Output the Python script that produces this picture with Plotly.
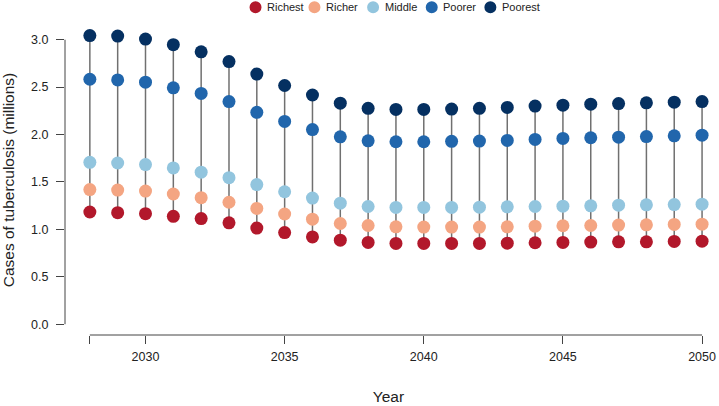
import plotly.graph_objects as go

# ---------------- data ----------------
years = list(range(2028, 2051))
groups = ["Richest", "Richer", "Middle", "Poorer", "Poorest"]
colors = ["#B2182B", "#F4A582", "#92C5DE", "#2166AC", "#053061"]

richest = [1.183, 1.176, 1.166, 1.138, 1.114, 1.069, 1.014, 0.966, 0.920, 0.886,
           0.862, 0.852, 0.852, 0.852, 0.852, 0.855, 0.859, 0.862, 0.866, 0.869,
           0.869, 0.873, 0.876]
richer = [1.420, 1.414, 1.404, 1.373, 1.334, 1.286, 1.221, 1.162, 1.108, 1.062,
          1.041, 1.027, 1.024, 1.024, 1.024, 1.027, 1.034, 1.038, 1.041, 1.045,
          1.048, 1.052, 1.055]
middle = [1.707, 1.700, 1.683, 1.648, 1.603, 1.545, 1.472, 1.397, 1.330, 1.276,
          1.241, 1.231, 1.231, 1.231, 1.234, 1.238, 1.241, 1.245, 1.248, 1.255,
          1.259, 1.262, 1.266]
poorer = [2.583, 2.576, 2.552, 2.493, 2.434, 2.348, 2.234, 2.138, 2.052, 1.976,
          1.934, 1.924, 1.924, 1.928, 1.931, 1.938, 1.948, 1.959, 1.966, 1.972,
          1.979, 1.986, 1.993]
poorest = [3.044, 3.038, 3.007, 2.948, 2.872, 2.769, 2.638, 2.517, 2.417, 2.331,
           2.276, 2.265, 2.265, 2.269, 2.276, 2.286, 2.300, 2.310, 2.320, 2.327,
           2.334, 2.341, 2.348]

x_ticks = [2028, 2030, 2035, 2040, 2045, 2050]
x_ticktext = ["", "2030", "2035", "2040", "2045", "2050"]
y_ticks = [0.0, 0.5, 1.0, 1.5, 2.0, 2.5, 3.0]
y_ticktext = ["0.0", "0.5", "1.0", "1.5", "2.0", "2.5", "3.0"]

series = [richest, richer, middle, poorer, poorest]

# ---------------- layout geometry ----------------
W, H = 719, 406
ML, MR, MT, MB = 65, 3, 25, 65
PW, PH = W - ML - MR, H - MT - MB
FONT = "Liberation Sans, Arial, Helvetica, sans-serif"
AXC = "#444444"
TXT = "#222222"

fig = go.Figure()

# vertical connector segments
sx, sy = [], []
for i, yr in enumerate(years):
    lo = min(s[i] for s in series)
    hi = max(s[i] for s in series)
    sx += [yr, yr, None]
    sy += [lo, hi, None]
fig.add_trace(go.Scatter(x=sx, y=sy, mode="lines",
                         line=dict(color="#707070", width=1.5),
                         hoverinfo="skip", showlegend=False))

for name, col, vals in zip(groups, colors, series):
    fig.add_trace(go.Scatter(x=years, y=vals, mode="markers", name=name,
                             marker=dict(color=col, size=13, line=dict(width=0)),
                             showlegend=False))

# axis lines (R-style, spanning first to last tick)
fig.add_shape(type="line", xref="x", yref="paper", x0=min(x_ticks), x1=max(x_ticks),
              y0=0, y1=0, line=dict(color=AXC, width=1))
fig.add_shape(type="line", xref="paper", yref="y", x0=0, x1=0,
              y0=min(y_ticks), y1=max(y_ticks), line=dict(color=AXC, width=1))

# custom legend
leg_px = [256.7, 316.0, 375.0, 434.0, 493.0]
leg_py = 7.0
ly = (H - MB - leg_py) / PH
for name, col, px in zip(groups, colors, leg_px):
    lx = (px - ML) / PW
    fig.add_shape(type="circle", xref="paper", yref="paper",
                  xsizemode="pixel", ysizemode="pixel",
                  xanchor=lx, yanchor=ly, x0=-6, x1=6, y0=-6, y1=6,
                  fillcolor=col, line=dict(width=0))
    fig.add_annotation(xref="paper", yref="paper", x=(px + 9.5 - ML) / PW, y=ly,
                       text=name, showarrow=False, xanchor="left", yanchor="middle",
                       font=dict(family=FONT, size=11, color=TXT))

fig.update_layout(
    width=W, height=H,
    margin=dict(l=ML, r=MR, t=MT, b=MB),
    paper_bgcolor="white", plot_bgcolor="white",
    font=dict(family=FONT, color=TXT),
    showlegend=False,
    xaxis=dict(range=[2028 - 25 / 28, 2028 - 25 / 28 + PW / 28],
               tickvals=x_ticks, ticktext=x_ticktext,
               ticks="outside", ticklen=8, tickwidth=1, tickcolor=AXC,
               showline=False, showgrid=False, zeroline=False,
               ticklabeloverflow="allow",
               tickfont=dict(size=12.5, color=TXT), ticklabelstandoff=2,
               title=dict(text="Year", font=dict(size=15.5, color=TXT), standoff=28)),
    yaxis=dict(range=[-11 / 96.67, -11 / 96.67 + PH / 96.67],
               tickvals=y_ticks, ticktext=y_ticktext,
               ticks="outside", ticklen=8, tickwidth=1, tickcolor=AXC,
               showline=False, showgrid=False, zeroline=False,
               tickfont=dict(size=12.5, color=TXT), ticklabelstandoff=5,
               title=dict(text="Cases of tuberculosis (millions)",
                          font=dict(size=15.5, color=TXT), standoff=12)),
)

fig.write_html("out.html", config={"displayModeBar": False},
               post_script="document.body.style.margin='0';document.body.style.padding='0';")
